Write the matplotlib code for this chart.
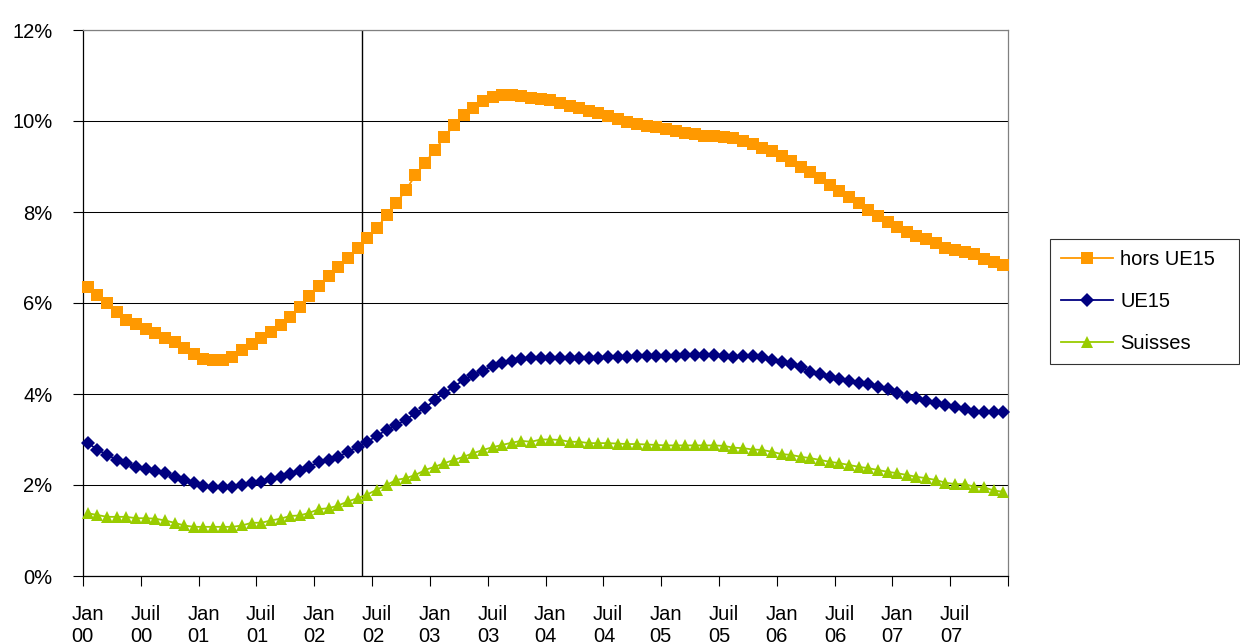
import numpy as np
import matplotlib
matplotlib.use("Agg")
import matplotlib.pyplot as plt

plt.rcParams['font.family'] = ['Liberation Sans', 'DejaVu Sans']

# Monthly series, January 2000 to December 2007 (values in %)
hors_ue15 = [
    6.36, 6.18, 6.01, 5.80, 5.63, 5.53, 5.42, 5.33, 5.24, 5.14, 5.02, 4.87,
    4.78, 4.75, 4.75, 4.82, 4.97, 5.10, 5.24, 5.37, 5.52, 5.70, 5.91, 6.15,
    6.37, 6.59, 6.80, 6.98, 7.20, 7.42, 7.64, 7.93, 8.19, 8.48, 8.81, 9.08,
    9.36, 9.64, 9.91, 10.13, 10.28, 10.45, 10.53, 10.57, 10.57, 10.56, 10.50, 10.48,
    10.47, 10.39, 10.33, 10.28, 10.22, 10.17, 10.11, 10.04, 9.98, 9.94, 9.90, 9.86,
    9.82, 9.78, 9.74, 9.71, 9.67, 9.66, 9.64, 9.62, 9.55, 9.49, 9.40, 9.33,
    9.23, 9.11, 9.00, 8.89, 8.74, 8.59, 8.47, 8.34, 8.19, 8.04, 7.91, 7.79,
    7.66, 7.55, 7.47, 7.40, 7.31, 7.20, 7.16, 7.13, 7.08, 6.96, 6.91, 6.84,
]
ue15 = [
    2.92, 2.78, 2.66, 2.56, 2.48, 2.40, 2.35, 2.31, 2.26, 2.18, 2.12, 2.04,
    1.98, 1.95, 1.95, 1.95, 2.00, 2.04, 2.07, 2.13, 2.18, 2.24, 2.31, 2.40,
    2.51, 2.56, 2.62, 2.73, 2.84, 2.95, 3.08, 3.21, 3.32, 3.43, 3.58, 3.69,
    3.87, 4.02, 4.16, 4.31, 4.42, 4.51, 4.62, 4.69, 4.73, 4.76, 4.79, 4.80,
    4.80, 4.80, 4.80, 4.80, 4.80, 4.80, 4.81, 4.81, 4.82, 4.83, 4.83, 4.84,
    4.84, 4.84, 4.85, 4.85, 4.85, 4.85, 4.83, 4.82, 4.83, 4.83, 4.82, 4.75,
    4.71, 4.67, 4.59, 4.49, 4.45, 4.38, 4.34, 4.29, 4.25, 4.22, 4.16, 4.10,
    4.03, 3.94, 3.91, 3.85, 3.81, 3.76, 3.71, 3.66, 3.61, 3.61, 3.61, 3.61,
]
suisses = [
    1.38, 1.34, 1.30, 1.30, 1.30, 1.27, 1.27, 1.26, 1.22, 1.17, 1.11, 1.08,
    1.08, 1.08, 1.08, 1.08, 1.11, 1.17, 1.17, 1.22, 1.26, 1.32, 1.33, 1.39,
    1.47, 1.49, 1.55, 1.64, 1.71, 1.79, 1.90, 2.00, 2.11, 2.15, 2.22, 2.33,
    2.40, 2.48, 2.55, 2.62, 2.70, 2.77, 2.83, 2.88, 2.93, 2.97, 2.95, 3.00,
    3.00, 2.99, 2.95, 2.95, 2.92, 2.92, 2.92, 2.91, 2.90, 2.90, 2.89, 2.88,
    2.87, 2.87, 2.87, 2.87, 2.87, 2.87, 2.86, 2.82, 2.81, 2.78, 2.77, 2.73,
    2.68, 2.66, 2.62, 2.59, 2.55, 2.51, 2.48, 2.44, 2.40, 2.37, 2.33, 2.29,
    2.26, 2.22, 2.18, 2.15, 2.11, 2.05, 2.02, 2.02, 1.96, 1.95, 1.88, 1.85,
]

tick_labels = [
    "Jan\n00", "Juil\n00", "Jan\n01", "Juil\n01", "Jan\n02", "Juil\n02",
    "Jan\n03", "Juil\n03", "Jan\n04", "Juil\n04", "Jan\n05", "Juil\n05",
    "Jan\n06", "Juil\n06", "Jan\n07", "Juil\n07",
]
y_ticks = [0, 2, 4, 6, 8, 10, 12]

# Month index of the vertical marker (June 2002)
marker_month = 29

n = len(hors_ue15)
x = np.arange(n) + 0.5

fig = plt.figure(figsize=(12.4, 6.44), dpi=100)
W, H = 1240, 644
ax = fig.add_axes([83 / W, 1 - 576 / H, 925 / W, 546 / H])

series = [
    (hors_ue15, "hors UE15", "#FF9900", "s", 9.2),
    (ue15, "UE15", "#000080", "D", 6.8),
    (suisses, "Suisses", "#99CC00", "^", 9.0),
]
for vals, label, color, marker, ms in series:
    ax.plot(x, vals, color=color, lw=1.3, marker=marker, markersize=ms,
            markeredgewidth=0, label=label, zorder=3, clip_on=False)

ax.axvline(marker_month, color="black", lw=1.0, zorder=2)

ax.set_xlim(0, n)
ax.set_ylim(0, 12)

ax.set_yticks(y_ticks)
ax.set_yticklabels([f"{v}%" for v in y_ticks])
ax.yaxis.grid(True, color="black", lw=0.75, zorder=1)
ax.set_axisbelow(True)

# Ticks at half-year boundaries, labels centred on the first month of each half-year
ax.set_xticks(np.arange(0, n + 1, 6))
ax.set_xticklabels([])
ax.set_xticks(np.arange(0, n, 6) + 0.5, minor=True)
ax.set_xticklabels(tick_labels, minor=True, multialignment="left")

ax.tick_params(axis="x", which="major", length=7, width=0.8, direction="out", color="black")
ax.tick_params(axis="x", which="minor", length=0, pad=21, labelsize=14.5)
ax.tick_params(axis="y", which="major", length=7, width=0.8, direction="out",
               pad=15, labelsize=14.5, color="black")

for side in ("left", "bottom"):
    ax.spines[side].set_color("black")
    ax.spines[side].set_linewidth(0.9)
for side in ("top", "right"):
    ax.spines[side].set_color("#808080")
    ax.spines[side].set_linewidth(0.9)

leg = ax.legend(loc="upper left", bbox_to_anchor=(1050 / W, 1 - 239 / H, 189 / W, 0.0),
                bbox_transform=fig.transFigure, mode="expand",
                fontsize=14.5, frameon=True, fancybox=False, shadow=False,
                handlelength=2.6, handletextpad=0.35, labelspacing=1.15,
                borderpad=0.55, borderaxespad=0)
leg.get_frame().set_edgecolor("black")
leg.get_frame().set_linewidth(0.8)

fig.savefig("out.png", dpi=100, facecolor="white")
